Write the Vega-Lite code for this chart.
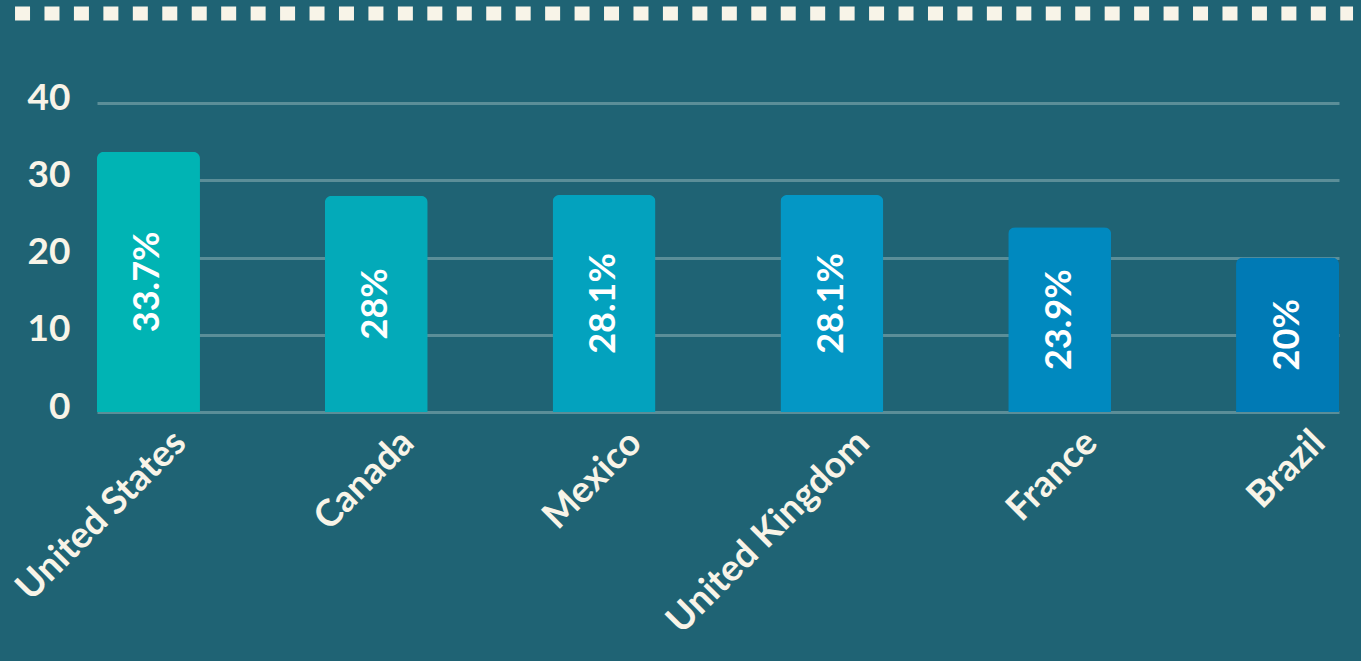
{
  "$schema": "https://vega.github.io/schema/vega-lite/v6.json",
  "width": 1242,
  "height": 309,
  "autosize": "none",
  "padding": {"left": 97, "top": 103, "right": 22, "bottom": 249},
  "background": "#1f6374",
  "config": {"view": {"stroke": null}, "font": "Lato"},
  "data": {
    "values": [
      {"country": "United States", "value": 33.7, "label": "33.7%"},
      {"country": "Canada", "value": 28, "label": "28%"},
      {"country": "Mexico", "value": 28.1, "label": "28.1%"},
      {"country": "United Kingdom", "value": 28.1, "label": "28.1%"},
      {"country": "France", "value": 23.9, "label": "23.9%"},
      {"country": "Brazil", "value": 20, "label": "20%"}
    ]
  },
  "layer": [
    {
      "data": {"values": [{}]},
      "mark": {"type": "rule", "strokeWidth": 14, "strokeDash": [15, 14.45], "color": "#f8f4e8", "strokeCap": "butt", "clip": false},
      "encoding": {
        "x": {"datum": -0.066, "type": "quantitative", "scale": {"domain": [0, 1]}, "axis": null},
        "x2": {"datum": 1.0113},
        "y": {"datum": 51.6, "type": "quantitative", "scale": {"domain": [0, 40]}}
      }
    },
    {
      "layer": [
        {
          "mark": {"type": "bar", "cornerRadiusTopLeft": 7, "cornerRadiusTopRight": 7},
          "encoding": {
            "x": {
              "field": "country", "type": "nominal", "sort": null,
              "scale": {"paddingInner": 0.548, "paddingOuter": 0},
              "axis": {
                "title": null, "labelAngle": -45, "labelAlign": "right", "labelBaseline": "top",
                "labelFontSize": 37, "labelFontWeight": "bold", "labelColor": "#f8f4e8", "labelFont": "Lato",
                "ticks": false, "domain": false, "labelPadding": 12, "labelOffset": 19, "labelLimit": 0
              }
            },
            "y": {
              "field": "value", "type": "quantitative",
              "scale": {"domain": [0, 40]},
              "axis": {
                "title": null, "values": [0, 10, 20, 30, 40], "domain": false, "ticks": false,
                "grid": true, "gridColor": "#5b8e98", "gridWidth": 3, "gridOpacity": 1,
                "labelFontSize": 37, "labelFontWeight": "bold", "labelColor": "#f8f4e8", "labelFont": "Lato",
                "labelPadding": 27, "labelOffset": -5
              }
            },
            "color": {
              "field": "country", "type": "nominal", "legend": null,
              "scale": {
                "domain": ["United States", "Canada", "Mexico", "United Kingdom", "France", "Brazil"],
                "range": ["#00b4b4", "#03aab9", "#03a2be", "#0497c5", "#0089bf", "#007ab5"]
              }
            }
          }
        },
        {
          "transform": [{"calculate": "datum.value / 2", "as": "mid"}],
          "mark": {"type": "text", "angle": 270, "align": "center", "baseline": "middle", "fontSize": 36, "fontWeight": "bold", "color": "#ffffff", "font": "Lato"},
          "encoding": {
            "x": {"field": "country", "type": "nominal", "sort": null},
            "y": {"field": "mid", "type": "quantitative"},
            "text": {"field": "label"}
          }
        }
      ]
    }
  ],
  "resolve": {"scale": {"x": "independent"}}
}
